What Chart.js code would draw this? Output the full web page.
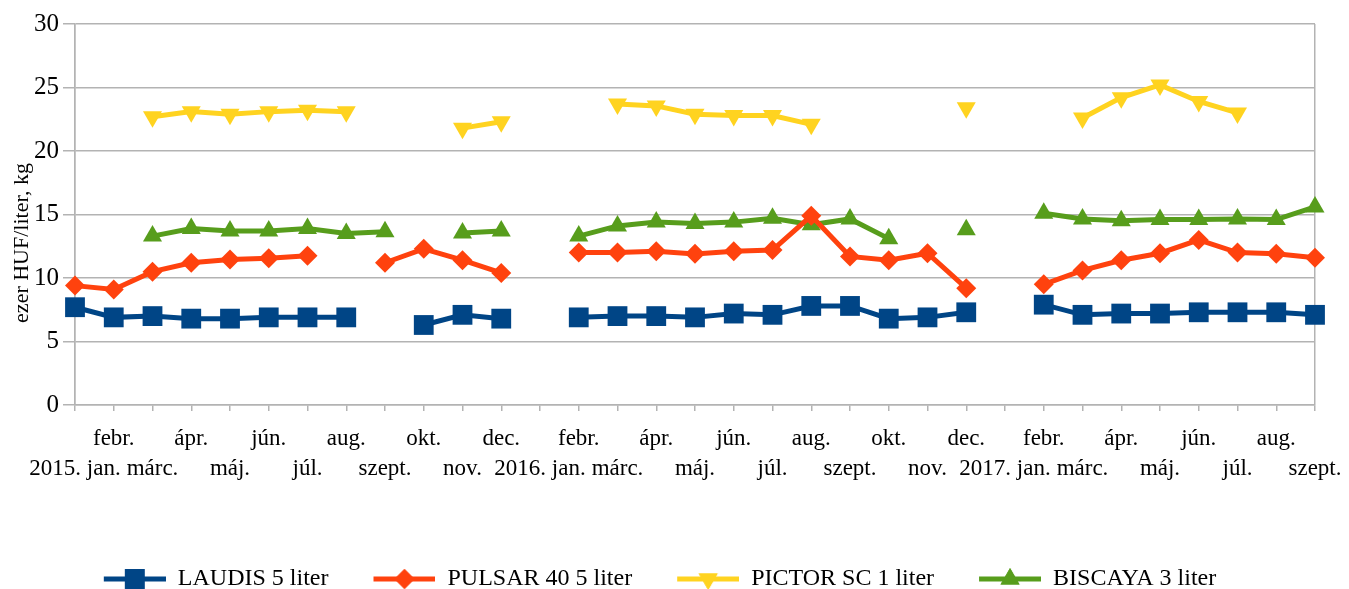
<!DOCTYPE html>
<html>
<head>
<meta charset="utf-8">
<script src="https://cdn.jsdelivr.net/npm/chart.js@4"></script>
<style>
  html, body { margin: 0; padding: 0; background: #fff; }
  #wrap { width: 1349px; height: 589px; }
</style>
</head>
<body>
<div id="wrap"><canvas id="chart" width="1349" height="589"></canvas></div>
<script>
// Data
const months = [
    '2015. jan.', 'febr.', 'márc.', 'ápr.', 'máj.', 'jún.', 'júl.', 'aug.', 'szept.', 'okt.', 'nov.', 'dec.',
    '2016. jan.', 'febr.', 'márc.', 'ápr.', 'máj.', 'jún.', 'júl.', 'aug.', 'szept.', 'okt.', 'nov.', 'dec.',
    '2017. jan.', 'febr.', 'márc.', 'ápr.', 'máj.', 'jún.', 'júl.', 'aug.', 'szept.'
];
const laudis = [7.7, 6.9, 7.0, 6.8, 6.8, 6.9, 6.9, 6.9, null, 6.3, 7.1, 6.8,
    null, 6.9, 7.0, 7.0, 6.9, 7.2, 7.1, 7.8, 7.8, 6.8, 6.9, 7.3,
    null, 7.9, 7.1, 7.2, 7.2, 7.3, 7.3, 7.3, 7.1];
const pulsar = [9.4, 9.1, 10.5, 11.2, 11.45, 11.55, 11.75, null, 11.2, 12.3, 11.4, 10.4,
    null, 12.0, 12.0, 12.1, 11.9, 12.1, 12.2, 14.9, 11.7, 11.4, 11.95, 9.2,
    null, 9.5, 10.6, 11.4, 11.95, 13.0, 12.0, 11.9, 11.6];
const pictor = [null, null, 22.7, 23.1, 22.9, 23.1, 23.2, 23.1, null, null, 21.8, 22.3,
    null, null, 23.7, 23.55, 22.9, 22.8, 22.8, 22.1, null, null, null, 23.4,
    null, null, 22.6, 24.2, 25.2, 23.9, 23.0, null, null];
const biscaya = [null, null, 13.3, 13.9, 13.7, 13.7, 13.9, 13.5, 13.65, null, 13.55, 13.7,
    null, 13.3, 14.1, 14.4, 14.3, 14.4, 14.7, 14.2, 14.65, 13.1, null, 13.8,
    null, 15.1, 14.65, 14.5, 14.6, 14.6, 14.65, 14.6, 15.6];
const seriesNames = ['LAUDIS 5 liter', 'PULSAR 40 5 liter', 'PICTOR SC 1 liter', 'BISCAYA 3 liter'];
const yTicks = [0, 5, 10, 15, 20, 25, 30];
const yTitle = 'ezer HUF/liter, kg';

// Styles
const FONT = "'Liberation Serif', 'Times New Roman', serif";
const GRID = '#b3b3b3';
const styles = [
    { color: '#004586', point: 'rect', radius: 14, rotation: 0 },
    { color: '#ff420e', point: 'rectRot', radius: 10, rotation: 0 },
    { color: '#ffd320', point: 'triangle', radius: 11, rotation: 180 },
    { color: '#579d1c', point: 'triangle', radius: 11, rotation: 0 }
];

// staggered two-row labels
const labels = months.map((m, i) => i % 2 === 1 ? [m, ''] : ['', m]);

// legend icon: line with marker, some empty space on the left for the item gaps
const ICON_GAP = 5;
function legendIcon(style) {
    const c = document.createElement('canvas');
    c.width = ICON_GAP + 62;
    c.height = 30;
    const g = c.getContext('2d');
    g.strokeStyle = style.color;
    g.lineWidth = 5;
    g.beginPath();
    g.moveTo(ICON_GAP, 15);
    g.lineTo(c.width, 15);
    g.stroke();
    g.fillStyle = style.color;
    Chart.helpers.drawPoint(g, {
        pointStyle: style.point,
        radius: style.radius,
        rotation: style.rotation,
        borderWidth: 0
    }, ICON_GAP + 31, 15);
    g.fill();
    return c;
}

const seriesData = [laudis, pulsar, pictor, biscaya];

const datasets = seriesData.map((d, i) => ({
    label: seriesNames[i],
    data: d,
    borderColor: styles[i].color,
    backgroundColor: styles[i].color,
    borderWidth: 5,
    pointStyle: styles[i].point,
    pointRadius: styles[i].radius,
    pointHoverRadius: styles[i].radius,
    pointRotation: styles[i].rotation,
    pointBorderWidth: 0,
    spanGaps: false,
    tension: 0
}));

// y axis title drawn by hand, it sits off-centre in the original
const yTitlePlugin = {
    id: 'yTitle',
    afterDraw(chart) {
        const ctx = chart.ctx;
        ctx.save();
        ctx.translate(22, 243);
        ctx.rotate(-Math.PI / 2);
        ctx.font = '22px ' + FONT;
        ctx.fillStyle = '#000';
        ctx.textAlign = 'center';
        ctx.textBaseline = 'middle';
        ctx.fillText(yTitle, 0, 0);
        ctx.restore();
    }
};

new Chart(document.getElementById('chart'), {
    type: 'line',
    data: { labels: labels, datasets: datasets },
    plugins: [yTitlePlugin],
    options: {
        responsive: false,
        animation: false,
        layout: { padding: { left: 0, right: 34, top: 24, bottom: -12 } },
        plugins: {
            tooltip: { enabled: false },
            legend: {
                position: 'bottom',
                labels: {
                    usePointStyle: true,
                    pointStyleWidth: ICON_GAP + 62,
                    padding: 40,
                    color: '#000',
                    font: { family: FONT, size: 24 },
                    generateLabels: (chart) => chart.data.datasets.map((ds, i) => ({
                        text: ds.label,
                        fillStyle: ds.borderColor,
                        strokeStyle: ds.borderColor,
                        pointStyle: legendIcon(styles[i]),
                        datasetIndex: i,
                        hidden: false,
                        fontColor: '#000'
                    }))
                }
            }
        },
        scales: {
            x: {
                offset: false,
                afterFit: (scale) => {
                    scale.height = 122;
                    scale.paddingLeft = 0;
                    scale.paddingRight = 0;
                },
                grid: {
                    drawOnChartArea: true,
                    color: (ctx) => (ctx.index === 0 || ctx.index === months.length - 1) ? GRID : 'rgba(0,0,0,0)',
                    tickColor: GRID,
                    tickLength: 6,
                    lineWidth: 1.5
                },
                border: { display: true, color: GRID, width: 1.5 },
                ticks: {
                    autoSkip: false,
                    maxRotation: 0,
                    minRotation: 0,
                    padding: 13,
                    color: '#000',
                    font: { family: FONT, size: 23, lineHeight: 1.3 }
                }
            },
            y: {
                min: 0,
                max: 30,
                afterFit: (scale) => { scale.width = 75; },
                afterBuildTicks: (scale) => { scale.ticks = yTicks.map(v => ({ value: v })); },
                grid: { color: GRID, tickColor: GRID, tickLength: 12, lineWidth: 1.5 },
                border: { display: true, color: GRID, width: 1.5 },
                ticks: {
                    padding: 4,
                    color: '#000',
                    font: { family: FONT, size: 25 }
                }
            }
        }
    }
});
</script>
</body>
</html>
